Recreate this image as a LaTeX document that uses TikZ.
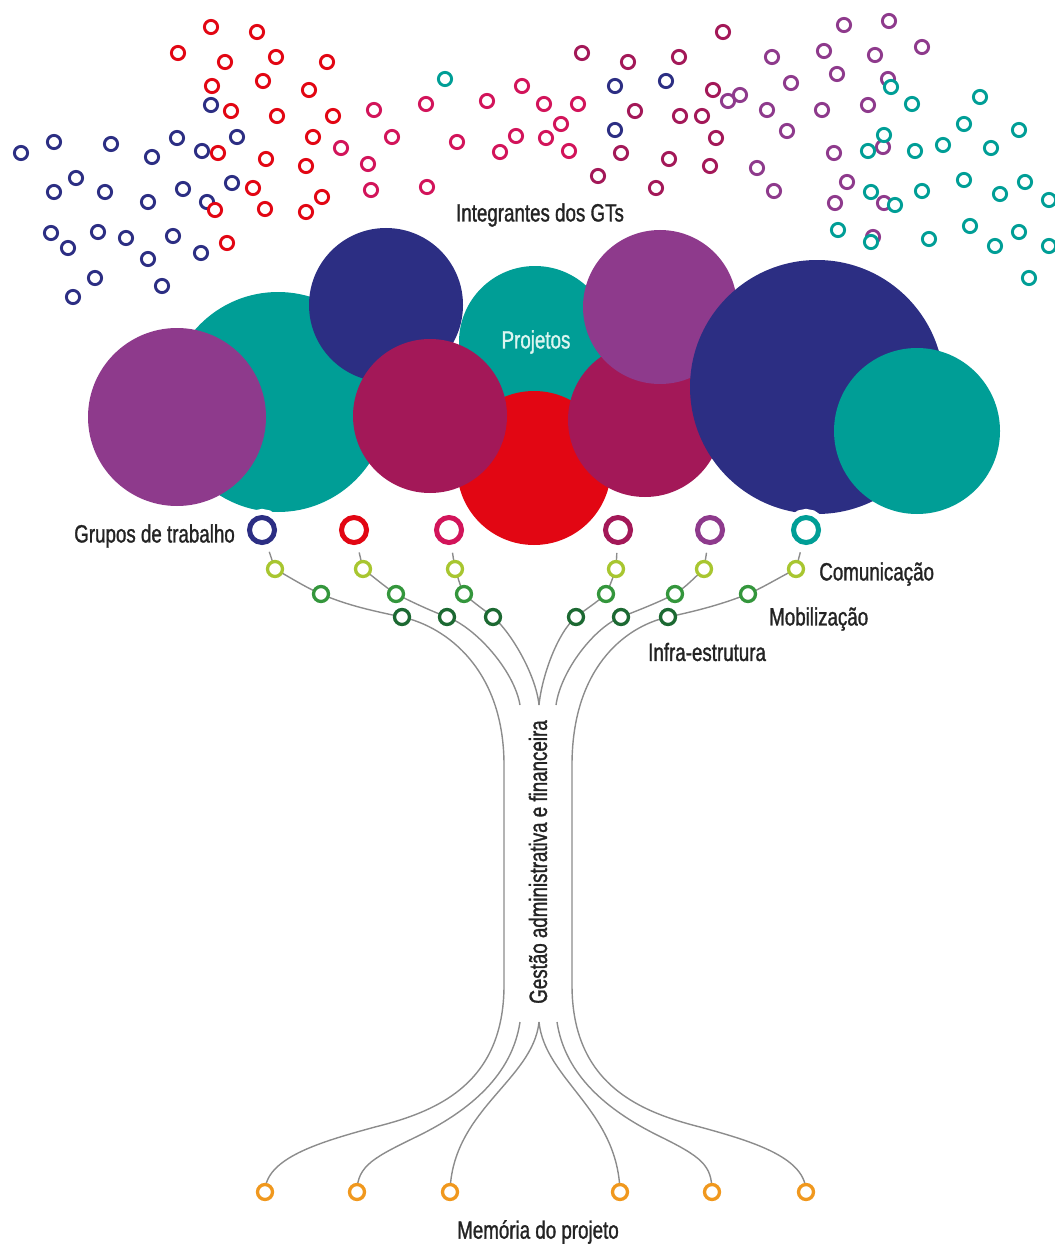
\documentclass[tikz,border=0pt]{standalone}
\usepackage{fontspec}
\newfontfamily\gtfont[FakeStretch=0.75, FakeBold=1.2]{Liberation Sans}
\usetikzlibrary{positioning}
\usetikzlibrary{backgrounds}
\definecolor{gtnavy}{RGB}{44,46,131}
\definecolor{gtteal}{RGB}{0,158,150}
\definecolor{gtpurple}{RGB}{142,58,140}
\definecolor{gtcrimson}{RGB}{163,24,88}
\definecolor{gtred}{RGB}{226,6,19}
\definecolor{gtpink}{RGB}{210,20,90}
\definecolor{gtlime}{RGB}{168,198,48}
\definecolor{gtgreen}{RGB}{52,150,60}
\definecolor{gtdarkgreen}{RGB}{28,105,50}
\definecolor{gtorange}{RGB}{240,152,30}
\definecolor{linegray}{RGB}{140,140,140}
\definecolor{textgray}{RGB}{35,35,35}
\definecolor{projtext}{RGB}{220,245,240}
\tikzset{
        ring/.style={circle, inner sep=0pt, fill=white},
        % Scattered members
        member/.style={ring, draw=#1, line width=2.9pt, minimum size=13.2pt},
        % Working group rings
        group_ring/.style={ring, draw=#1, line width=5pt, minimum size=25pt, preaction={draw=white, line width=17pt}},
        % Area rings on the branches
        area_ring/.style={ring, draw=#1, line width=3.3pt, minimum size=15pt},
        % Grey branches
        branch/.style={draw=linegray, line width=1.4pt},
        label_text/.style={font=\gtfont\fontsize{25}{28}\selectfont, text=textgray, inner sep=0pt}
}
\begin{document}
\begin{tikzpicture}[x=1pt, y=-1pt]
    \useasboundingbox (0,0) rectangle (1054,1249);
    % Projects
    \fill[gtteal] (278,402) circle[radius=110pt];
    \fill[gtpurple] (177,417) circle[radius=89pt];
    \fill[gtteal] (535,342) circle[radius=76pt];
    \fill[gtnavy] (386,305) circle[radius=77pt];
    \fill[gtred] (534,468) circle[radius=77pt];
    \fill[gtcrimson] (430,416) circle[radius=77pt];
    \fill[gtcrimson] (645,420) circle[radius=77pt];
    \fill[gtpurple] (660,307) circle[radius=77pt];
    \fill[gtnavy] (817,387) circle[radius=127pt];
    \fill[gtteal] (917,431) circle[radius=83pt];

    % Members of the groups
    \foreach \x/\y [count=\i] in {21/153, 54/142, 111/144, 152/157, 177/138, 202/151, 237/137, 211/105, 76/178, 54/192, 105/192, 148/202, 183/189, 232/183, 207/202, 51/233, 68/248, 98/232, 126/238, 173/236, 148/259, 201/253, 95/278, 73/297, 162/286, 615/86, 666/81, 615/130}
        \node[member=gtnavy] (nv\i) at (\x,\y) {};
    \foreach \x/\y [count=\i] in {211/27, 257/32, 178/53, 225/62, 276/57, 327/62, 212/86, 263/81, 309/90, 231/111, 277/116, 333/116, 313/137, 218/153, 266/159, 306/166, 253/188, 322/197, 215/210, 265/209, 306/212, 227/243}
        \node[member=gtred] (rd\i) at (\x,\y) {};
    \foreach \x/\y [count=\i] in {374/110, 392/137, 341/148, 368/164, 371/190, 426/104, 427/187, 457/142, 487/101, 522/86, 516/136, 500/152, 544/104, 578/104, 561/124, 546/138, 569/151}
        \node[member=gtpink] (pk\i) at (\x,\y) {};
    \foreach \x/\y [count=\i] in {582/53, 628/62, 679/57, 723/32, 635/111, 621/153, 598/176, 656/188, 669/159, 680/116, 702/116, 713/90, 716/138, 710/166}
        \node[member=gtcrimson] (cr\i) at (\x,\y) {};
    \foreach \x/\y [count=\i] in {728/101, 740/95, 772/57, 791/83, 767/110, 787/131, 757/168, 774/191, 844/25, 889/21, 922/47, 824/51, 875/55, 837/74, 888/79, 822/110, 868/105, 834/153, 883/147, 847/182, 835/203, 884/203, 873/237}
        \node[member=gtpurple] (pu\i) at (\x,\y) {};
    \foreach \x/\y [count=\i] in {445/79, 891/87, 912/104, 884/135, 868/151, 915/151, 943/145, 980/97, 964/124, 1019/130, 991/148, 964/180, 922/191, 871/192, 895/205, 1000/194, 1025/182, 1049/200, 838/230, 871/242, 929/239, 970/226, 995/246, 1019/232, 1049/246, 1029/278}
        \node[member=gtteal] (te\i) at (\x,\y) {};

    % Working groups
    \node[group_ring=gtnavy] (gt1) at (262,530) {};
    \node[group_ring=gtred] (gt2) at (354,530) {};
    \node[group_ring=gtpink] (gt3) at (449,530) {};
    \node[group_ring=gtcrimson] (gt4) at (618,530) {};
    \node[group_ring=gtpurple] (gt5) at (710,530) {};
    \node[group_ring=gtteal] (gt6) at (806,530) {};

    % Areas
    \foreach \x [count=\i] in {275,363,455,616,704,796}
        \node[area_ring=gtlime] (ye\i) at (\x,569) {};
    \foreach \x [count=\i] in {321,396,464,606,675,748}
        \node[area_ring=gtgreen] (gr\i) at (\x,594) {};
    \foreach \x [count=\i] in {402,447,493,576,621,668}
        \node[area_ring=gtdarkgreen] (dg\i) at (\x,617) {};
    \foreach \x [count=\i] in {265,357,450,620,712,806}
        \node[area_ring=gtorange] (or\i) at (\x,1192) {};

    % Trunk
    \coordinate (trunk_l1) at (504,765);
    \coordinate (trunk_l2) at (504,985);
    \coordinate (trunk_r1) at (572,765);
    \coordinate (trunk_r2) at (572,985);
    \coordinate (fork_t) at (539,705);
    \coordinate (fork_b) at (539,1022);
    \coordinate (in_lt) at (520,705);
    \coordinate (in_rt) at (556,705);
    \coordinate (in_lb) at (520,1022);
    \coordinate (in_rb) at (557,1022);

    \begin{pgfonlayer}{background}
        \foreach \i in {1,...,6}
            \draw[branch, shorten >=8pt] (ye\i.center) -- (gt\i);
        \draw[branch] (ye1.center) .. controls +(16,9) and +(-16,-7) .. (gr1.center)
            .. controls +(28,12) and +(-28,-6) .. (dg1.center)
            .. controls +(45,10) and +(0,-95) .. (trunk_l1) -- (trunk_l2)
            .. controls (504,1085) and (435,1112) .. (375,1127)
            .. controls (320,1142) and (265,1158) .. (or1.center);
        \draw[branch] (ye2.center) .. controls +(12,9) and +(-12,-8) .. (gr2.center)
            .. controls +(18,9) and +(-18,-7) .. (dg2.center)
            .. controls +(28,10) and +(-6,-35) .. (in_lt);
        \draw[branch] (ye3.center) .. controls +(3,8) and +(-4,-8) .. (gr3.center)
            .. controls +(10,9) and +(-10,-8) .. (dg3.center)
            .. controls +(18,15) and +(-3,-30) .. (fork_t);
        \draw[branch] (ye4.center) .. controls +(-3,8) and +(4,-8) .. (gr4.center)
            .. controls +(-10,9) and +(10,-8) .. (dg4.center)
            .. controls +(-18,15) and +(3,-30) .. (fork_t);
        \draw[branch] (ye5.center) .. controls +(-10,9) and +(12,-8) .. (gr5.center)
            .. controls +(-18,9) and +(18,-7) .. (dg5.center)
            .. controls +(-26,10) and +(5,-35) .. (in_rt);
        \draw[branch] (ye6.center) .. controls +(-16,8) and +(16,-7) .. (gr6.center)
            .. controls +(-28,11) and +(28,-6) .. (dg6.center)
            .. controls +(-45,10) and +(0,-95) .. (trunk_r1) -- (trunk_r2)
            .. controls (572,1085) and (641,1112) .. (700,1127)
            .. controls (755,1142) and (806,1158) .. (or6.center);
        % Roots
        \draw[branch] (in_lb) .. controls (512,1075) and (470,1110) .. (420,1135)
            .. controls (375,1157) and (357,1165) .. (or2.center);
        \draw[branch] (fork_b) .. controls (533,1080) and (452,1110) .. (or3.center);
        \draw[branch] (fork_b) .. controls (545,1080) and (618,1110) .. (or4.center);
        \draw[branch] (in_rb) .. controls (565,1075) and (607,1110) .. (657,1135)
            .. controls (702,1157) and (712,1165) .. (or5.center);
    \end{pgfonlayer}

    % Labels
    \node[label_text] (members) at (540,215) {Integrantes dos GTs};
    \node[label_text, text=projtext] (projects) at (536,342) {Projetos};
    \node[label_text, left=12pt of gt1, yshift=-6pt] (groups) {Grupos de trabalho};
    \node[label_text, right=14pt of ye6, yshift=-5pt] (comm) {Comunicação};
    \node[label_text, anchor=west] (mobil) at (769,619) {Mobilização};
    \node[label_text, anchor=west] (infra) at (648,652) {Infra-estrutura};
    \node[label_text, rotate=90] (admin) at (538,862) {Gestão administrativa e financeira};
    \node[label_text] (memory) at (538,1232) {Memória do projeto};
\end{tikzpicture}
\end{document}
